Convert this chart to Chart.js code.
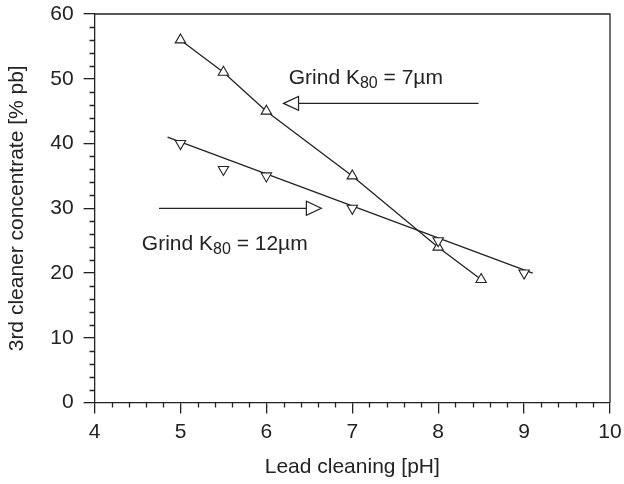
<!DOCTYPE html>
<html lang="en">
<head>
<meta charset="UTF-8">
<title>Lead cleaning pH vs 3rd cleaner concentrate</title>
<script src="https://cdn.jsdelivr.net/npm/chart.js"></script>
<style>
  html, body { margin: 0; padding: 0; background: #fff; }
  #wrap { width: 624px; height: 484px; }
</style>
</head>
<body>
<div id="wrap"><canvas id="chart"></canvas></div>
<script>
// Grind K80 = 7 um (up triangles, joined)
const ph7 = [5, 5.5, 6, 7, 8, 8.5];
const pb7 = [56, 51, 45, 35, 24, 19];
// Grind K80 = 12 um (down triangles)
const ph12 = [5, 5.5, 6, 7, 8, 9];
const pb12 = [40, 36, 35, 30, 25, 20];
// straight line fitted through the 12 um points (ends)
const fit12X = [4.85, 9.1];
const fit12Y = [41, 20];
// axis ticks
const xTicks = [4, 5, 6, 7, 8, 9, 10];
const yTicks = [0, 10, 20, 30, 40, 50, 60];

const ink = '#222';
const font = 'Liberation Sans, Arial, Helvetica, sans-serif';

// arrows and their labels, in data units
const arrows = [
    { from: [8.47, 46.2], to: [6.20, 46.2] },
    { from: [4.75, 30], to: [6.64, 30] }
];
const notes = [
    { x: 6.26, y: 49.2, text: 'Grind K', sub: '80', rest: ' = 7\u00b5m' },
    { x: 4.55, y: 23.6, text: 'Grind K', sub: '80', rest: ' = 12\u00b5m' }
];

function pts(xs, ys) {
    return xs.map((v, i) => ({ x: v, y: ys[i] }));
}

// top/right frame, minor ticks, arrows and labels
const extras = {
    id: 'extras',
    afterDraw(chart) {
        const { ctx, chartArea: a, scales: { x, y } } = chart;
        ctx.save();
        ctx.strokeStyle = ink;
        ctx.lineWidth = 1.3;
        ctx.beginPath();
        ctx.moveTo(a.left, a.top);
        ctx.lineTo(a.right, a.top);
        ctx.lineTo(a.right, a.bottom);
        ctx.stroke();

        // minor ticks: 0.2 pH and 2 %
        ctx.beginPath();
        for (let i = 1; i < 30; i++) {
            if (i % 5 === 0) continue;
            const px = Math.round(x.getPixelForValue(4 + i * 0.2)) + 0.5;
            ctx.moveTo(px, a.bottom);
            ctx.lineTo(px, a.bottom + 5);
        }
        for (let i = 1; i < 30; i++) {
            if (i % 5 === 0) continue;
            const py = Math.round(y.getPixelForValue(i * 2)) + 0.5;
            ctx.moveTo(a.left, py);
            ctx.lineTo(a.left - 5, py);
        }
        ctx.stroke();

        // arrows with open heads
        ctx.lineWidth = 1.2;
        arrows.forEach(ar => {
            const x0 = x.getPixelForValue(ar.from[0]);
            const x1 = x.getPixelForValue(ar.to[0]);
            const py = y.getPixelForValue(ar.to[1]);
            const dir = x1 > x0 ? 1 : -1;
            const base = x1 - dir * 15;
            ctx.beginPath();
            ctx.moveTo(x0, py);
            ctx.lineTo(base, py);
            ctx.stroke();
            ctx.beginPath();
            ctx.moveTo(x1, py);
            ctx.lineTo(base, py - 7);
            ctx.lineTo(base, py + 7);
            ctx.closePath();
            ctx.fillStyle = '#fff';
            ctx.fill();
            ctx.stroke();
        });

        // labels with subscript
        ctx.fillStyle = ink;
        ctx.textBaseline = 'alphabetic';
        ctx.textAlign = 'left';
        notes.forEach(n => {
            let px = x.getPixelForValue(n.x);
            const py = y.getPixelForValue(n.y);
            ctx.font = '21px ' + font;
            ctx.fillText(n.text, px, py);
            px += ctx.measureText(n.text).width;
            ctx.font = '16px ' + font;
            ctx.fillText(n.sub, px, py + 4);
            px += ctx.measureText(n.sub).width;
            ctx.font = '21px ' + font;
            ctx.fillText(n.rest, px, py);
        });
        ctx.restore();
    }
};

const marker = {
    pointStyle: 'triangle',
    pointRadius: 6,
    pointHoverRadius: 6,
    pointBackgroundColor: '#fff',
    pointBorderColor: ink,
    pointBorderWidth: 1.1
};

const ctx = document.getElementById('chart').getContext('2d');
const chart = new Chart(ctx, {
    type: 'scatter',
    data: {
        datasets: [
            Object.assign({
                label: 'Grind K80 = 7 um',
                data: pts(ph7, pb7),
                showLine: true,
                borderColor: ink,
                borderWidth: 1.3,
                order: 1
            }, marker),
            Object.assign({
                label: 'Grind K80 = 12 um',
                data: pts(ph12, pb12),
                showLine: false,
                rotation: 180,
                order: 0
            }, marker),
            {
                label: 'fit 12 um',
                data: pts(fit12X, fit12Y),
                showLine: true,
                borderColor: ink,
                borderWidth: 1.3,
                pointRadius: 0,
                order: 2
            }
        ]
    },
    options: {
        responsive: true,
        maintainAspectRatio: false,
        animation: false,
        events: [],
        layout: { padding: { left: 1, right: 14, top: 14, bottom: 0 } },
        plugins: {
            legend: { display: false },
            tooltip: { enabled: false }
        },
        scales: {
            x: {
                type: 'linear',
                min: 4,
                max: 10,
                afterBuildTicks: s => { s.ticks = xTicks.map(v => ({ value: v })); },
                afterFit: s => { s.paddingRight = 0; },
                grid: { drawOnChartArea: false, drawTicks: true, tickLength: 11, color: ink, lineWidth: 1.3 },
                border: { display: true, color: ink, width: 1.3 },
                ticks: { color: ink, font: { family: font, size: 21 }, padding: 6, maxRotation: 0 },
                title: {
                    display: true,
                    text: 'Lead cleaning [pH]',
                    color: ink,
                    font: { family: font, size: 21 },
                    padding: { top: 4, bottom: 4 }
                }
            },
            y: {
                type: 'linear',
                min: 0,
                max: 60,
                afterBuildTicks: s => { s.ticks = yTicks.map(v => ({ value: v })); },
                afterFit: s => { s.paddingTop = 0; },
                grid: { drawOnChartArea: false, drawTicks: true, tickLength: 11, color: ink, lineWidth: 1.3 },
                border: { display: true, color: ink, width: 1.3 },
                ticks: { color: ink, font: { family: font, size: 21 }, padding: 10 },
                title: {
                    display: true,
                    text: '3rd cleaner concentrate [% pb]',
                    color: ink,
                    font: { family: font, size: 21 },
                    padding: { top: 4, bottom: 10 }
                }
            }
        }
    },
    plugins: [extras]
});
</script>
</body>
</html>
